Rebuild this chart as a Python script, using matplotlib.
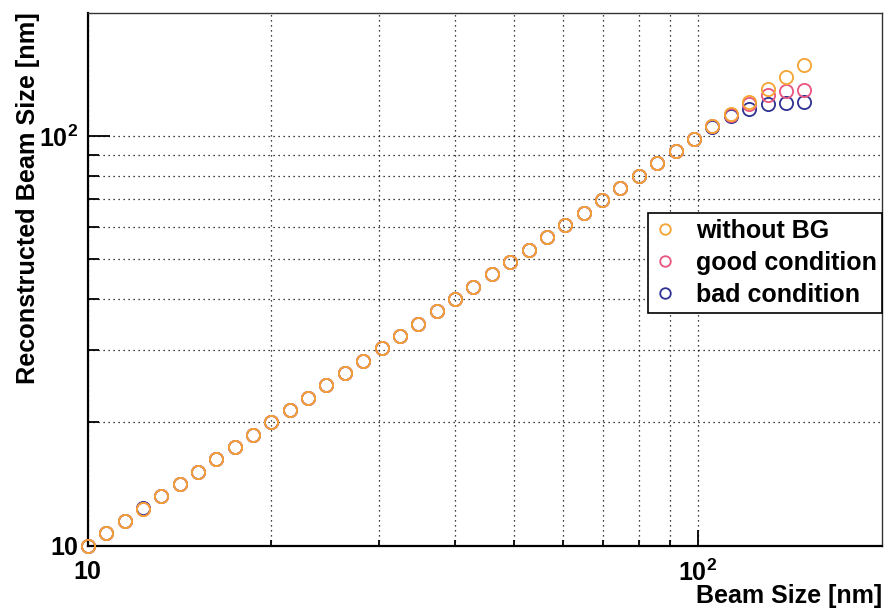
import matplotlib
matplotlib.use("Agg")
import matplotlib.pyplot as plt
from matplotlib.ticker import NullFormatter, FixedLocator, FixedFormatter

# beam size scan: 10 * 2^(n/10), n = 0..39
beam_size = [10.0, 10.72, 11.49, 12.31, 13.2, 14.14, 15.16, 16.25, 17.41, 18.66,
             20.0, 21.44, 22.97, 24.62, 26.39, 28.28, 30.31, 32.49, 34.82, 37.32,
             40.0, 42.87, 45.95, 49.25, 52.78, 56.57, 60.63, 64.98, 69.64, 74.64,
             80.0, 85.74, 91.9, 98.49, 105.6, 113.1, 121.3, 130.0, 139.3, 149.3]

reco_no_bg = [10.0, 10.72, 11.49, 12.31, 13.2, 14.14, 15.16, 16.25, 17.41, 18.66,
              20.0, 21.44, 22.97, 24.62, 26.39, 28.28, 30.31, 32.49, 34.82, 37.32,
              40.0, 42.87, 45.95, 49.25, 52.78, 56.57, 60.63, 64.98, 69.64, 74.64,
              80.0, 85.74, 91.9, 98.49, 105.6, 113.1, 121.3, 130.0, 139.3, 149.3]

reco_good = [10.0, 10.72, 11.49, 12.31, 13.2, 14.14, 15.16, 16.25, 17.41, 18.66,
             20.0, 21.44, 22.97, 24.62, 26.39, 28.28, 30.31, 32.49, 34.82, 37.32,
             40.0, 42.87, 45.95, 49.25, 52.78, 56.57, 60.63, 64.98, 69.64, 74.64,
             80.0, 85.74, 91.9, 98.49, 105.5, 112.6, 119.7, 126.0, 128.9, 129.4]

reco_bad = [10.0, 10.74, 11.49, 12.34, 13.23, 14.14, 15.16, 16.25, 17.41, 18.66,
            20.0, 21.44, 22.97, 24.62, 26.39, 28.28, 30.31, 32.49, 34.82, 37.32,
            40.0, 42.87, 45.95, 49.25, 52.78, 56.57, 60.63, 64.98, 69.64, 74.64,
            80.0, 85.74, 91.9, 98.4, 105.3, 111.6, 116.6, 119.6, 120.7, 121.3]

labels = ["without BG", "good condition", "bad condition"]
colors = ["#F5A332", "#E9557E", "#2E3192"]

major_ticks = [10, 100]
major_labels = ["10", r"$\mathbf{10^{2}}$"]
minor_ticks = [20, 30, 40, 50, 60, 70, 80, 90]

plt.rcParams["font.family"] = ["Liberation Sans", "DejaVu Sans"]
plt.rcParams["font.weight"] = "bold"
plt.rcParams["mathtext.fontset"] = "custom"
plt.rcParams["mathtext.rm"] = "Liberation Sans:bold"
plt.rcParams["mathtext.bf"] = "Liberation Sans:bold"

fig = plt.figure(figsize=(8.88, 6.12), dpi=100)
ax = fig.add_axes([87.7 / 888, 1 - 545.7 / 612, (881.7 - 87.7) / 888, (545.7 - 12.7) / 612])

# markers are not clipped at the frame (the 10 nm point sits on the corner)
mk = dict(marker="o", linestyle="none", markersize=9.5, markerfacecolor="none",
          markeredgewidth=1.3, clip_on=False)
h_bad, = ax.plot(beam_size, reco_bad, color=colors[2], label=labels[2], zorder=3, **mk)
h_good, = ax.plot(beam_size, reco_good, color=colors[1], label=labels[1], zorder=4, **mk)
h_nobg, = ax.plot(beam_size, reco_no_bg, color=colors[0], label=labels[0], zorder=5, **mk)

ax.set_xscale("log")
ax.set_yscale("log")
ax.set_xlim(10, 200)
ax.set_ylim(10, 200)

for axis in (ax.xaxis, ax.yaxis):
    axis.set_major_locator(FixedLocator(major_ticks))
    axis.set_major_formatter(FixedFormatter(major_labels))
    axis.set_minor_locator(FixedLocator(minor_ticks))
    axis.set_minor_formatter(NullFormatter())

ax.grid(True, which="both", color="black", linestyle=(0, (1, 3)), linewidth=0.9)

ax.tick_params(axis="both", which="both", direction="in", top=False, right=False,
               labelsize=18, color="black", width=1.3)
ax.tick_params(axis="y", which="major", length=16, pad=7)
ax.tick_params(axis="y", which="minor", length=8)
ax.tick_params(axis="x", which="major", length=11.5, pad=10)
ax.tick_params(axis="x", which="minor", length=4.5)

for side in ("left", "bottom"):
    ax.spines[side].set_linewidth(1.6)
for side in ("top", "right"):
    ax.spines[side].set_linewidth(1.0)
    ax.spines[side].set_color("#333333")

ax.set_xlabel("Beam Size [nm]", fontsize=18, fontweight="bold", loc="right")
ax.xaxis.set_label_coords(1.0, -0.071)

# y title: its end sits at the top of the frame
ax.set_ylabel("Reconstructed Beam Size [nm]", fontsize=18.2, fontweight="bold")
ax.yaxis.label.set(rotation_mode="anchor", ha="right", va="center")
ax.yaxis.set_label_coords((28 - 87.7) / 794, 1.0)

leg = fig.legend(handles=[h_nobg, h_good, h_bad], labels=labels,
                 loc="upper left", bbox_to_anchor=(648 / 888, 1 - 213 / 612),
                 fontsize=18, frameon=True, fancybox=False, framealpha=1,
                 edgecolor="black", borderpad=0.22, labelspacing=0.33,
                 handlelength=0.9, handletextpad=0.8, borderaxespad=0,
                 markerscale=0.8)
leg.get_frame().set_linewidth(1.2)
for t in leg.get_texts():
    t.set_fontweight("bold")

fig.savefig("out.png", dpi=100)
